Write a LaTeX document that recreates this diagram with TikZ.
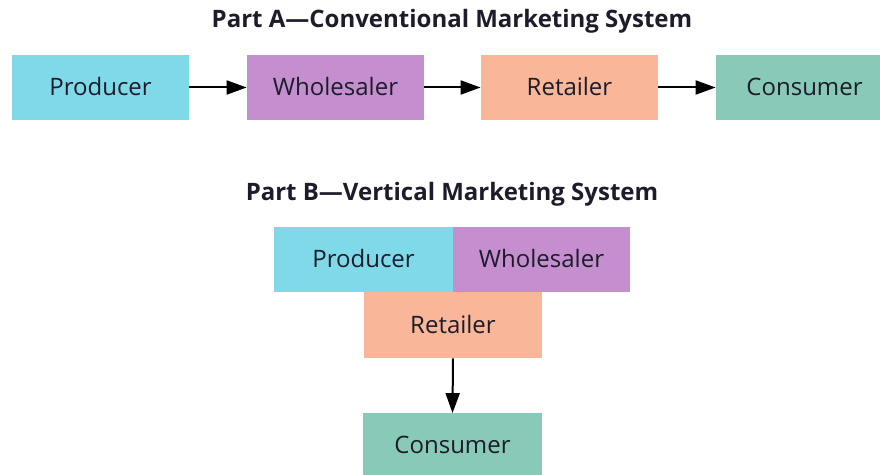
\documentclass[tikz,border=0pt]{standalone}
\usepackage{fontspec}
\setmainfont{Open Sans}
\usetikzlibrary{arrows.meta}
\definecolor{cyanb}{HTML}{80D9E9}
\definecolor{purpb}{HTML}{C58ECF}
\definecolor{salmb}{HTML}{F9B699}
\definecolor{greenb}{HTML}{89C9B8}
\definecolor{txt}{HTML}{1C1C2A}
\tikzset{
  box/.style={rectangle, inner sep=0pt, minimum height=32.5pt, text=txt, font=\fontsize{12}{14}\selectfont},
  ttl/.style={font=\bfseries\fontsize{12}{14}\selectfont, text=txt},
  arr/.style={-{Triangle[length=10pt,width=7pt]}, line width=1pt, black}
}
\begin{document}
\begin{tikzpicture}[x=0.5pt,y=-0.5pt]
\useasboundingbox (0,0) rectangle (880,475);
\clip (0,0) rectangle (880,475);
\node[ttl] (ta) at (452,21) {Part A—Conventional Marketing System};
\node[box, fill=cyanb, minimum width=88.5pt] (pa) at (100.5,87.5) {\raisebox{1pt}{Producer}};
\node[box, fill=purpb, minimum width=88.5pt] (wa) at (335.5,87.5) {\raisebox{1pt}{Wholesaler}};
\node[box, fill=salmb, minimum width=88.5pt] (ra) at (569.5,87.5) {\raisebox{1pt}{Retailer}};
\node[box, fill=greenb, minimum width=88.5pt] (ca) at (804.5,87.5) {\raisebox{1pt}{Consumer}};
\draw[arr] (pa) -- (wa);
\draw[arr] (wa) -- (ra);
\draw[arr] (ra) -- (ca);
\node[ttl] (tb) at (452,194) {Part B—Vertical Marketing System};
\node[box, fill=cyanb, minimum width=89.5pt] (pb) at (363.5,259.5) {\raisebox{1pt}{Producer}};
\node[box, fill=purpb, minimum width=88.5pt] (wb) at (541.5,259.5) {\raisebox{1pt}{Wholesaler}};
\node[box, fill=salmb, minimum width=89pt, minimum height=33pt] (rb) at (453,325) {\raisebox{1pt}{Retailer}};
\node[box, fill=greenb, minimum width=89.5pt] (cb) at (452.5,446) {\raisebox{1pt}{Consumer}};
\draw[arr] (rb.south) -- (cb.north);
\end{tikzpicture}
\end{document}
